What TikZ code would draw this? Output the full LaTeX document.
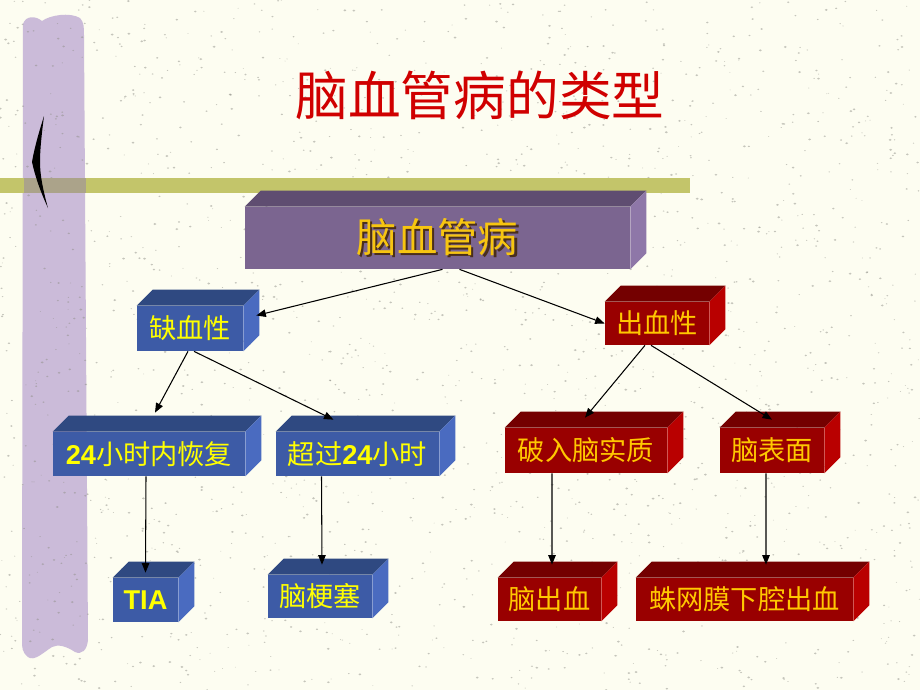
\documentclass[tikz,border=0pt]{standalone}
\usepackage{fontspec}
\setmainfont{Liberation Sans}
\newfontfamily\cjk{Noto Sans CJK SC}
\usetikzlibrary{arrows.meta}
\definecolor{paper}{HTML}{FDFDF1}
\definecolor{speck}{HTML}{8E8E86}
\definecolor{lavender}{HTML}{CBBBD9}
\definecolor{olive}{HTML}{C3C56A}
\definecolor{mixed}{HTML}{ABA38A}
\definecolor{titlered}{HTML}{D00000}
\definecolor{purfront}{HTML}{7B6590}
\definecolor{purtop}{HTML}{5F4D71}
\definecolor{purside}{HTML}{8E77A8}
\definecolor{blufront}{HTML}{3D5BA6}
\definecolor{blutop}{HTML}{2F4981}
\definecolor{bluside}{HTML}{4A6BC0}
\definecolor{redfront}{HTML}{990000}
\definecolor{redtop}{HTML}{740000}
\definecolor{redside}{HTML}{B90000}
\definecolor{gold}{HTML}{F7C510}
\definecolor{goldshadow}{HTML}{4A2E1A}
\definecolor{lemon}{HTML}{FFFF00}
\definecolor{amber}{HTML}{FFC800}
% bold latin digits inside the CJK labels
\newcommand\numb[1]{{\normalfont\bfseries #1}}
\newcommand\shadowed[1]{\rlap{\kern1.3pt\raisebox{-1.3pt}{\textcolor{goldshadow}{#1}}}#1}

\begin{document}
\begin{tikzpicture}[
  x=0.02cm, y=-0.02cm,
  cube/.style={inner sep=0pt, align=center, font=\cjk\fontsize{15.5}{18}\selectfont},
  purplebox/.style={cube, fill=purfront, text=gold, font=\cjk\fontsize{23}{26}\selectfont},
  bluebox/.style={cube, fill=blufront, text=lemon},
  redbox/.style={cube, fill=redfront, text=amber},
  arrow/.style={-{Triangle[length=1.9mm,width=1.5mm]}, line width=0.6pt, draw=black}
]
\useasboundingbox (0,0) rectangle (920,690);
\fill[paper] (0,0) rectangle (920,690);

% left decoration
\fill[lavender] (23,24) .. controls (26,15) and (36,16) .. (42,21)
  .. controls (50,15) and (70,12) .. (80,18) .. controls (84,22) and (84,28) .. (84,35)
  -- (88,640) .. controls (87,650) and (82,655) .. (75,652)
  .. controls (66,646) and (58,644) .. (52,647) .. controls (44,652) and (34,662) .. (28,657)
  .. controls (22,652) and (22,648) .. (22,640) -- cycle;

% paper grain
\pgfmathsetseed{42}
\foreach \k in {1,...,2000}{
  \pgfmathsetmacro{\sx}{920*rnd}
  \pgfmathsetmacro{\sy}{690*rnd}
  \pgfmathsetmacro{\sr}{0.5+1.0*rnd}
  \fill[speck, opacity=0.5] (\sx,\sy) ellipse[x radius=\sr, y radius=0.7*\sr];
}

\fill[olive] (0,178) rectangle (690,193);
\fill[mixed] (24,178) rectangle (86,193);
\fill[black] (44,116) .. controls (38,135) and (34,150) .. (32,162)
  .. controls (36,180) and (42,195) .. (48,208)
  .. controls (43,190) and (40,175) .. (40,162)
  .. controls (40,148) and (42,132) .. (44,116) -- cycle;

\node[text=titlered, font=\cjk\fontsize{30}{34}\selectfont] (title) at (480,95) {脑血管病的类型};

% boxes (front faces)
\node[purplebox, minimum width=7.7cm, minimum height=1.24cm] (main) at (437.5,238) {\shadowed{脑血管病}};
\node[bluebox, minimum width=2.12cm, minimum height=0.9cm] (isch) at (190,328.5) {缺血性};
\node[redbox, minimum width=2.08cm, minimum height=0.86cm] (hem) at (657,323.5) {出血性};
\node[bluebox, minimum width=3.84cm, minimum height=0.88cm] (within) at (149,454) {\numb{24}小时内恢复};
\node[bluebox, minimum width=3.26cm, minimum height=0.88cm] (beyond) at (357.5,454) {超过\numb{24}小时};
\node[redbox, minimum width=3.24cm, minimum height=0.9cm] (paren) at (586,450.5) {破入脑实质};
\node[redbox, minimum width=2.08cm, minimum height=0.9cm] (surf) at (772,450.5) {脑表面};
\node[bluebox, minimum width=1.3cm, minimum height=0.88cm, font=\normalfont\bfseries\fontsize{15.5}{18}\selectfont] (tia) at (145.5,600) {TIA};
\node[bluebox, minimum width=2.08cm, minimum height=0.86cm] (infarct) at (320,596.5) {脑梗塞};
\node[redbox, minimum width=2.06cm, minimum height=0.86cm] (ich) at (549.5,599.5) {脑出血};
\node[redbox, minimum width=4.34cm, minimum height=0.86cm] (sah) at (744.5,599.5) {蛛网膜下腔出血};

% top and side faces
\foreach \n/\t/\s in {main/purtop/purside, isch/blutop/bluside, hem/redtop/redside,
    within/blutop/bluside, beyond/blutop/bluside, paren/redtop/redside, surf/redtop/redside,
    tia/blutop/bluside, infarct/blutop/bluside, ich/redtop/redside, sah/redtop/redside}{
  \fill[\t] (\n.north west) -- ++(16,-16) -- ([shift={(16,-16)}]\n.north east) -- (\n.north east) -- cycle;
  \fill[\s] (\n.north east) -- ++(16,-16) -- ([shift={(16,-16)}]\n.south east) -- (\n.south east) -- cycle;
}

\draw[arrow] ([shift={(5,0)}]main.south) -- ([shift={(13,-13)}]isch.east);
\draw[arrow] ([shift={(22,0)}]main.south) -- (hem.west);
\draw[arrow] ([shift={(-2,0)}]isch.south) -- ([shift={(6,-19)}]within.north);
\draw[arrow] ([shift={(4,0)}]isch.south) -- ([shift={(-24,-12)}]beyond.north);
\draw[arrow] ([shift={(-12,0)}]hem.south) -- ([shift={(-1,-10)}]paren.north);
\draw[arrow] ([shift={(-6,0)}]hem.south) -- ([shift={(0,-8)}]surf.north);
\draw[arrow] ([shift={(-3,0)}]within.south) -- ([shift={(0,-5)}]tia.north);
\draw[arrow] ([shift={(-36,0)}]beyond.south) -- ([shift={(2,-10)}]infarct.north);
\draw[arrow] ([shift={(-34,0)}]paren.south) -- ([shift={(2.5,-13)}]ich.north);
\draw[arrow] ([shift={(-6,0)}]surf.south) -- ([shift={(21.5,-13)}]sah.north);
\end{tikzpicture}
\end{document}
